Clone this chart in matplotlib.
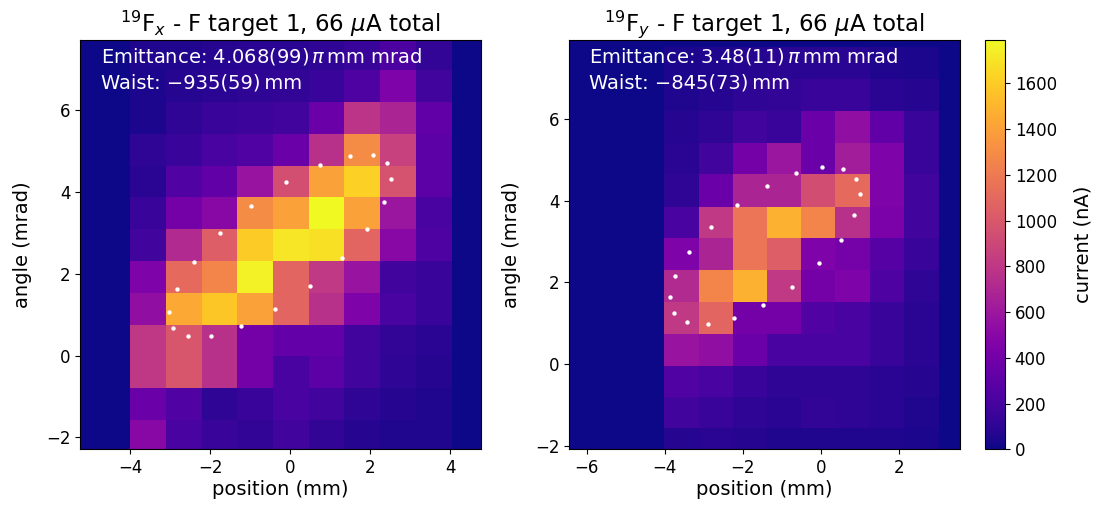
import numpy as np
import matplotlib
matplotlib.use("Agg")
import matplotlib.pyplot as plt

# ---- data ----
# left: 19F_x scan, bin edges (mm / mrad) and current (nA), rows top -> bottom
x_edges_x = [-4.00, -3.11, -2.21, -1.32, -0.43, 0.46, 1.35, 2.25, 3.15, 4.04]
y_edges_x = [7.76, 6.98, 6.20, 5.41, 4.63, 3.87, 3.09, 2.32, 1.53, 0.75, -0.02, -0.80, -1.58, -2.36]
current_x = [
    [55, 55, 70, 90, 90, 110, 145, 230, 125],
    [40, 70, 90, 110, 125, 145, 235, 450, 180],
    [35, 110, 145, 160, 180, 360, 780, 680, 320],
    [110, 145, 215, 250, 360, 760, 1300, 860, 290],
    [90, 250, 320, 580, 950, 1400, 1620, 970, 290],
    [145, 400, 500, 1300, 1400, 1790, 1400, 590, 215],
    [180, 720, 1040, 1600, 1710, 1690, 1080, 500, 235],
    [450, 1110, 1260, 1760, 1080, 810, 580, 180, 145],
    [540, 1440, 1580, 1400, 1080, 760, 450, 215, 145],
    [800, 990, 760, 400, 330, 330, 180, 125, 90],
    [800, 990, 760, 400, 215, 290, 180, 110, 70],
    [360, 250, 110, 145, 215, 180, 110, 70, 55],
    [500, 215, 145, 125, 180, 125, 70, 55, 55],
]
ellipse_x_pos = [1.50, 2.08, 2.43, 2.53, 2.35, 1.93, 1.29, 0.49, -0.37, -1.22,
                 -1.98, -2.56, -2.92, -3.02, -2.83, -2.40, -1.76, -0.98, -0.10, 0.74]
ellipse_x_ang = [4.88, 4.90, 4.70, 4.31, 3.74, 3.08, 2.39, 1.71, 1.14, 0.72,
                 0.48, 0.47, 0.67, 1.07, 1.63, 2.29, 2.99, 3.65, 4.23, 4.66]

# right: 19F_y scan
x_edges_y = [-4.01, -3.13, -2.25, -1.37, -0.50, 0.38, 1.26, 2.14, 3.03]
y_edges_y = [7.75, 6.97, 6.20, 5.42, 4.65, 3.85, 3.08, 2.30, 1.53, 0.75, -0.04, -0.81, -1.57, -2.35]
current_y = [
    [45, 55, 70, 90, 90, 90, 55, 45],
    [55, 70, 110, 125, 145, 145, 90, 70],
    [70, 110, 180, 145, 360, 540, 320, 145],
    [90, 180, 400, 590, 360, 630, 450, 145],
    [110, 360, 680, 680, 940, 1110, 450, 180],
    [215, 810, 1170, 1480, 1260, 760, 430, 180],
    [450, 680, 1170, 1040, 450, 410, 270, 145],
    [720, 1260, 1480, 810, 400, 450, 235, 110],
    [810, 1080, 400, 400, 250, 215, 145, 90],
    [580, 540, 360, 215, 215, 215, 145, 90],
    [250, 215, 145, 110, 110, 110, 90, 70],
    [180, 145, 110, 90, 125, 110, 90, 55],
    [70, 90, 70, 55, 55, 55, 55, 40],
]
ellipse_y_pos = [0.04, 0.56, 0.90, 1.01, 0.86, 0.51, -0.04, -0.73, -1.49, -2.23,
                 -2.90, -3.43, -3.76, -3.87, -3.73, -3.37, -2.82, -2.14, -1.38, -0.63]
ellipse_y_ang = [4.82, 4.78, 4.54, 4.16, 3.64, 3.05, 2.47, 1.90, 1.45, 1.13,
                 0.99, 1.03, 1.26, 1.65, 2.16, 2.74, 3.35, 3.90, 4.36, 4.67]

titles = [r"$^{19}$F$_x$ - F target 1, 66 $\mu$A total",
          r"$^{19}$F$_y$ - F target 1, 66 $\mu$A total"]
notes = ["Emittance: 4.068(99)$\\,\\pi\\,$mm mrad\nWaist: \u2212935(59)\u2009mm",
         "Emittance: 3.48(11)$\\,\\pi\\,$mm mrad\nWaist: \u2212845(73)\u2009mm"]

cmap = plt.get_cmap("plasma")
vmax = max(np.max(current_x), np.max(current_y))

fig = plt.figure(figsize=(11.01, 5.14), dpi=100)
ax1 = fig.add_axes([0.0727, 0.1259, 0.3642, 0.7963])
ax2 = fig.add_axes([0.5168, 0.1259, 0.3551, 0.7963])
cax = fig.add_axes([0.8946, 0.1259, 0.0182, 0.7963])

panels = [(ax1, x_edges_x, y_edges_x, current_x, ellipse_x_pos, ellipse_x_ang, (-5.25, 4.77), (-2.29, 7.71)),
          (ax2, x_edges_y, y_edges_y, current_y, ellipse_y_pos, ellipse_y_ang, (-6.45, 3.57), (-2.08, 7.93))]

for i, (ax, xe, ye, z, ex, ey, xl, yl) in enumerate(panels):
    ax.set_facecolor(cmap(0.0))
    mesh = ax.pcolormesh(xe, ye, np.array(z), cmap=cmap, vmin=0, vmax=vmax)
    ax.scatter(ex, ey, s=10, color="white", zorder=3, linewidths=0)
    ax.set_xlim(*xl); ax.set_ylim(*yl)
    ax.set_xlabel("position (mm)", fontsize=14, labelpad=2)
    ax.set_ylabel("angle (mrad)", fontsize=14, labelpad=10)
    ax.set_title(titles[i], fontsize=16.5, pad=6)
    ax.tick_params(labelsize=12)
    ax.text(0.052, 0.985, notes[i], transform=ax.transAxes, color="white",
            fontsize=14, va="top", ha="left", linespacing=1.4)

cb = fig.colorbar(mesh, cax=cax)
cb.set_label("current (nA)", fontsize=14, labelpad=12)
cb.ax.tick_params(labelsize=12)

fig.savefig("out.png", dpi=100)
